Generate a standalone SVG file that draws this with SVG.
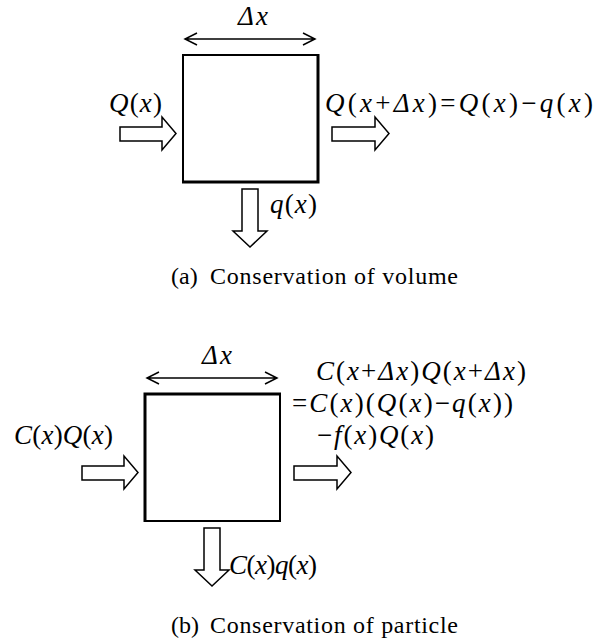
<svg xmlns="http://www.w3.org/2000/svg" width="607" height="641" viewBox="0 0 607 641">
<style>
.m{font-family:"Liberation Serif","Times New Roman",serif;font-size:27px;font-style:italic;fill:#000}
.u{font-style:normal}
.cap{font-family:"Liberation Serif","Times New Roman",serif;font-size:24px;fill:#000}
.box{fill:#fff;stroke:#000;stroke-width:2}
.edge{stroke:#000;stroke-width:3;fill:none}
.blk{fill:#fff;stroke:#000;stroke-width:1.5;stroke-linejoin:miter}
.dim{stroke:#000;stroke-width:1.5;fill:none}
</style>
<rect width="607" height="641" fill="#fff"/>

<g id="box-a">
<rect class="box" x="183" y="55" width="135" height="127"/>
<path class="edge" d="M318,54 V182 H182"/>
</g>
<g id="box-b">
<rect class="box" x="145" y="394" width="135" height="127"/>
<path class="edge" d="M145,522 V394 H281"/>
</g>

<g id="connectors">
<g id="dim-a">
<path class="dim" d="M185,39 H315 M197,33 L185,39 L197,45 M303,33 L315,39 L303,45"/>
</g>
<g id="dim-b">
<path class="dim" d="M147,378 H277 M159,372 L147,378 L159,384 M265,372 L277,378 L265,384"/>
</g>
<path id="in-a" class="blk" d="M120,127 H162 V117 L176,133.5 L162,150 V141 H120 Z"/>
<path id="out-a" class="blk" d="M332,127 H375 V117 L389,133.5 L375,150 V141 H332 Z"/>
<path id="down-a" class="blk" d="M242,189 V231 H233 L250,247 L267,231 H258 V189 Z"/>
<path id="in-b" class="blk" d="M82,466 H124 V456 L138,472.5 L124,489 V480 H82 Z"/>
<path id="out-b" class="blk" d="M294,466 H337 V456 L351,472.5 L337,489 V480 H294 Z"/>
<path id="down-b" class="blk" d="M204,528 V570 H195 L212,586 L229,570 H220 V528 Z"/>
</g>

<g id="labels-a">
<text class="m" x="238" y="25" textLength="30" lengthAdjust="spacing">Δx</text>
<text class="m" x="109" y="112" textLength="53" lengthAdjust="spacing">Q<tspan class="u">(</tspan>x<tspan class="u">)</tspan></text>
<text class="m" x="325" y="112" textLength="268" lengthAdjust="spacing">Q<tspan class="u">(</tspan>x<tspan class="u">+</tspan>Δx<tspan class="u">)=</tspan>Q<tspan class="u">(</tspan>x<tspan class="u">)−</tspan>q<tspan class="u">(</tspan>x<tspan class="u">)</tspan></text>
<text class="m" x="270" y="213" textLength="47" lengthAdjust="spacing">q<tspan class="u">(</tspan>x<tspan class="u">)</tspan></text>
</g>
<g id="caption-a">
<text class="cap" x="171" y="284">(a)</text>
<text class="cap" x="210" y="284" textLength="248" lengthAdjust="spacing">Conservation of volume</text>
</g>

<g id="labels-b">
<text class="m" x="202" y="364" textLength="30" lengthAdjust="spacing">Δx</text>
<text class="m" x="14" y="444" textLength="99" lengthAdjust="spacing">C<tspan class="u">(</tspan>x<tspan class="u">)</tspan>Q<tspan class="u">(</tspan>x<tspan class="u">)</tspan></text>
<text class="m" x="316" y="380" textLength="210" lengthAdjust="spacing">C<tspan class="u">(</tspan>x<tspan class="u">+</tspan>Δx<tspan class="u">)</tspan>Q<tspan class="u">(</tspan>x<tspan class="u">+</tspan>Δx<tspan class="u">)</tspan></text>
<text class="m" x="292" y="412" textLength="221" lengthAdjust="spacing"><tspan class="u">=</tspan>C<tspan class="u">(</tspan>x<tspan class="u">)(</tspan>Q<tspan class="u">(</tspan>x<tspan class="u">)−</tspan>q<tspan class="u">(</tspan>x<tspan class="u">))</tspan></text>
<text class="m" x="317" y="444" textLength="117" lengthAdjust="spacing"><tspan class="u">−</tspan>f<tspan class="u">(</tspan>x<tspan class="u">)</tspan>Q<tspan class="u">(</tspan>x<tspan class="u">)</tspan></text>
<text class="m" x="229" y="574" textLength="88" lengthAdjust="spacing">C<tspan class="u">(</tspan>x<tspan class="u">)</tspan>q<tspan class="u">(</tspan>x<tspan class="u">)</tspan></text>
</g>
<g id="caption-b">
<text class="cap" x="171" y="633">(b)</text>
<text class="cap" x="210" y="633" textLength="248" lengthAdjust="spacing">Conservation of particle</text>
</g>
</svg>
